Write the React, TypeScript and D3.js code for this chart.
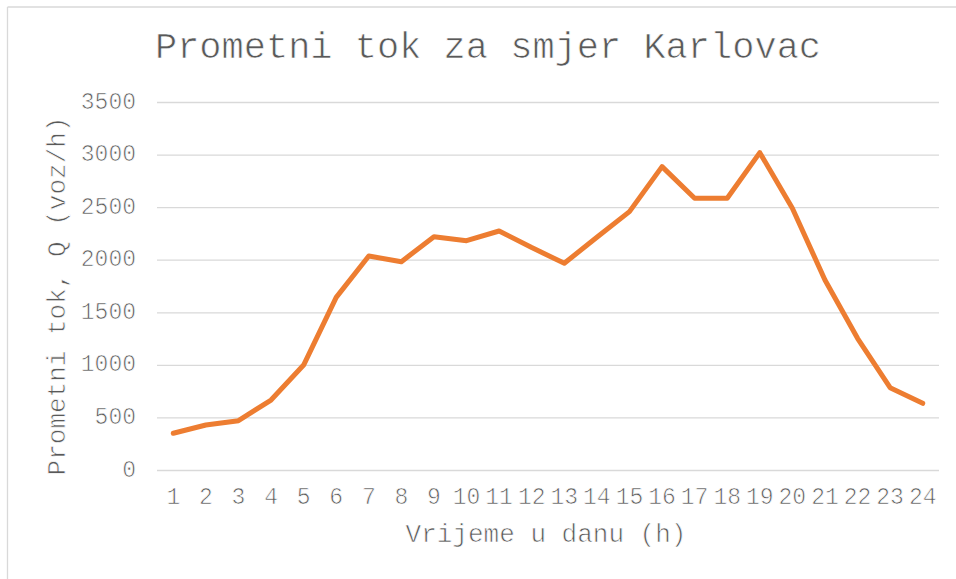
import React from "react";
import * as d3 from "d3";

const hours: string[] = ["1","2","3","4","5","6","7","8","9","10","11","12","13","14","15","16","17","18","19","20","21","22","23","24"];
const flow: number[] = [354, 433, 474, 670, 1003, 1647, 2040, 1986, 2224, 2186, 2278, 2120, 1971, 2218, 2462, 2890, 2589, 2589, 3023, 2494, 1812, 1257, 788, 639];
const yTicks: number[] = [0, 500, 1000, 1500, 2000, 2500, 3000, 3500];
const title = "Prometni tok za smjer Karlovac";
const xTitle = "Vrijeme u danu (h)";
const yTitle = "Prometni tok, Q (voz/h)";

const W = 956;
const H = 579;
const left = 157;
const right = 939;
const top = 102.5;
const bottom = 470.5;
const font = "'Liberation Mono', 'Courier New', monospace";
const textColor = "#595959";
const thin = { stroke: "#fff", strokeWidth: 0.7 } as const;

export default function App() {
  const x = d3.scaleBand<string>().domain(hours).range([left, right]);
  const y = d3.scaleLinear().domain([0, 3500]).range([bottom, top]);
  const line = d3
    .line<number>()
    .x((_, i) => (x(hours[i]) as number) + x.bandwidth() / 2)
    .y((d) => y(d));

  return (
    <svg
      width={W}
      height={H}
      style={{ position: "absolute", left: 0, top: 0, background: "#fff" }}
    >
      <rect x={0} y={0} width={W} height={H} fill="#fff" />
      <line x1={7.5} y1={7} x2={W} y2={7} stroke="#d9d9d9" strokeWidth={1.3} />
      <line x1={7.5} y1={7} x2={7.5} y2={H} stroke="#d9d9d9" strokeWidth={1.3} />

      <text
        x={488}
        y={48}
        textAnchor="middle"
        dominantBaseline="central"
        fontFamily={font}
        fontSize={37}
        fill={textColor}
        {...thin}
      >
        {title}
      </text>

      {yTicks.map((t) => (
        <g key={t}>
          <line x1={left} x2={right} y1={y(t)} y2={y(t)} stroke="#d9d9d9" strokeWidth={1.3} />
          <text
            x={136}
            y={y(t)}
            textAnchor="end"
            dominantBaseline="central"
            fontFamily={font}
            fontSize={23}
            fill={textColor}
            {...thin}
          >
            {t}
          </text>
        </g>
      ))}

      {hours.map((h) => (
        <text
          key={h}
          x={(x(h) as number) + x.bandwidth() / 2}
          y={498}
          textAnchor="middle"
          dominantBaseline="central"
          fontFamily={font}
          fontSize={23}
          fill={textColor}
          {...thin}
        >
          {h}
        </text>
      ))}

      <text
        x={(left + right) / 2 - 2}
        y={535}
        textAnchor="middle"
        dominantBaseline="central"
        fontFamily={font}
        fontSize={26}
        fill={textColor}
        {...thin}
      >
        {xTitle}
      </text>

      <text
        transform={`translate(58, ${(115 + 477) / 2}) rotate(-90)`}
        textAnchor="middle"
        dominantBaseline="central"
        fontFamily={font}
        fontSize={26}
        fill={textColor}
        {...thin}
      >
        {yTitle}
      </text>

      <path
        d={line(flow) || ""}
        fill="none"
        stroke="#ED7D31"
        strokeWidth={5}
        strokeLinejoin="round"
        strokeLinecap="round"
      />
    </svg>
  );
}
